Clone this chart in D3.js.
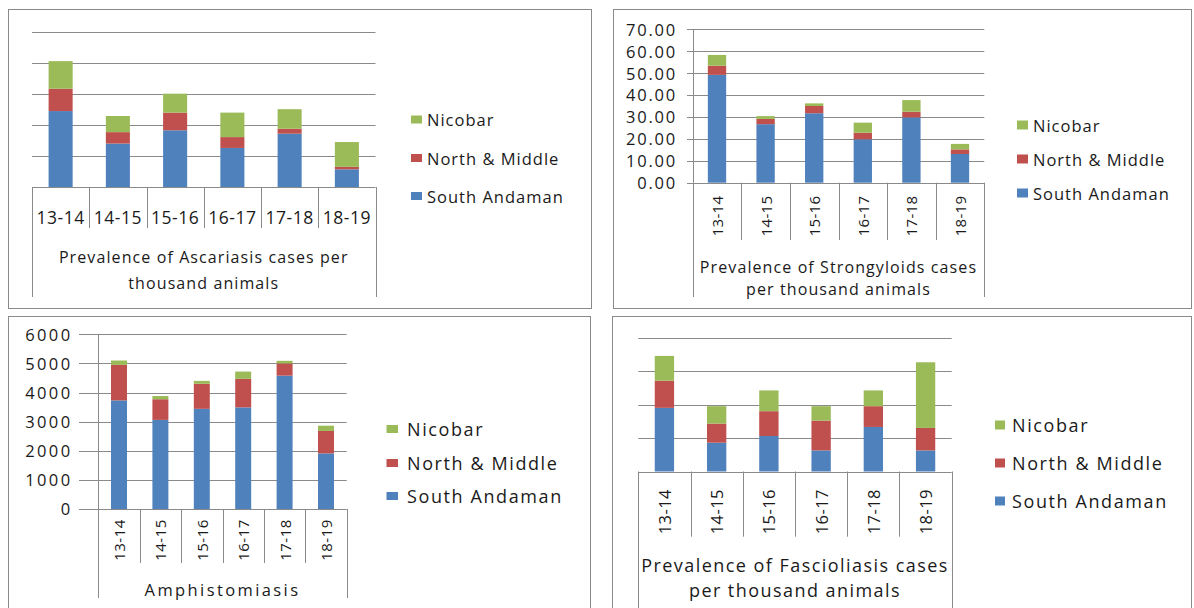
<!DOCTYPE html>
<html>
<head>
<meta charset="utf-8">
<script src="https://cdn.jsdelivr.net/npm/d3@7"></script>
<style>
  html, body { margin: 0; padding: 0; background: #ffffff; }
  svg { display: block; font-family: "Open Sans", "Noto Sans", sans-serif; }
</style>
</head>
<body>
<svg id="chart" width="1194" height="608"></svg>
<script>
// ---- data ----
const years = ["13-14", "14-15", "15-16", "16-17", "17-18", "18-19"];
const seriesNames = ["South Andaman", "North & Middle", "Nicobar"];
const seriesColors = ["#4F81BD", "#C0504D", "#9BBB59"];

// Ascariasis (cases per thousand animals)
const ascSouth   = [24.5, 14.0, 18.3, 12.6, 17.2, 5.7];
const ascNorth   = [7.2, 3.7, 5.7, 3.5, 1.6, 0.8];
const ascNicobar = [8.9, 5.2, 6.1, 7.9, 6.3, 8.0];
const ascTicks   = [0, 10, 20, 30, 40, 50];

// Strongyloids (cases per thousand animals)
const strSouth   = [49.2, 26.7, 31.7, 19.8, 29.8, 13.1];
const strNorth   = [4.2, 2.4, 3.3, 3.0, 2.6, 2.1];
const strNicobar = [4.9, 1.3, 1.2, 4.6, 5.3, 2.5];
const strTicks   = [0, 10, 20, 30, 40, 50, 60, 70];

// Amphistomiasis
const amphSouth   = [3730, 3060, 3440, 3490, 4580, 1910];
const amphNorth   = [1220, 710, 860, 980, 420, 770];
const amphNicobar = [150, 110, 100, 250, 90, 180];
const amphTicks   = [0, 1000, 2000, 3000, 4000, 5000, 6000];

// Fascioliasis (cases per thousand animals)
const fasSouth   = [19.0, 8.6, 10.6, 6.3, 13.3, 6.3];
const fasNorth   = [8.1, 5.7, 7.4, 8.9, 6.2, 6.7];
const fasNicobar = [7.4, 5.2, 6.2, 4.3, 4.7, 19.6];
const fasTicks   = [0, 10, 20, 30, 40];

// ---- layout of the four panels ----
const panels = [
  {
    values: [ascSouth, ascNorth, ascNicobar], ticks: ascTicks,
    frame: { x: 8.5, y: 9.5, w: 583, h: 299 },
    plot: { x0: 32, x1: 375.5, yTop: 32, yBase: 187, gridX0: 32 },
    barRatio: 0.42, yLabels: false, axisLine: false,
    cat: { mode: "h", cy: 217, size: 17.5, ls: 0.5, innerBottom: 228, outerBottom: 297 },
    title: { lines: ["Prevalence of Ascariasis cases per", "thousand animals"], ys: [257, 283], size: 16, ls: 1.1 },
    legend: { sqX: 411, sqW: 11, sqH: 8, textX: 427, ys: [196, 158, 119.5], size: 16.5, ls: 1 }
  },
  {
    values: [strSouth, strNorth, strNicobar], ticks: strTicks,
    frame: { x: 613.5, y: 9.5, w: 578, h: 299 },
    plot: { x0: 692.7, x1: 984.3, yTop: 29.3, yBase: 182.7, gridX0: 687 },
    barRatio: 0.377, yLabels: true, yFormat: d3.format(".2f"), yLabelRight: 677, ySize: 16.5, yLs: 1.8,
    axisLine: true,
    cat: { mode: "v", cy: 216, size: 15, ls: 0.3, innerBottom: 240, outerBottom: 297 },
    title: { lines: ["Prevalence of Strongyloids cases", "per thousand animals"], ys: [267, 289], size: 16, ls: 1.1 },
    legend: { sqX: 1017, sqW: 11, sqH: 9, textX: 1033, ys: [193, 159, 125], size: 16.5, ls: 1 }
  },
  {
    values: [amphSouth, amphNorth, amphNicobar], ticks: amphTicks,
    frame: { x: 8.5, y: 316.5, w: 582, h: 300 },
    plot: { x0: 98.3, x1: 346.7, yTop: 334.3, yBase: 509, gridX0: 79 },
    barRatio: 0.386, yLabels: true, yFormat: d3.format("d"), yLabelRight: 72.5, ySize: 16.5, yLs: 2.4,
    axisLine: true,
    cat: { mode: "v", cy: 540, size: 15, ls: 0.5, innerBottom: 563, outerBottom: 598 },
    title: { lines: ["Amphistomiasis"], ys: [589], size: 16.5, ls: 2.4 },
    legend: { sqX: 386.5, sqW: 11.5, sqH: 8, textX: 407, ys: [496, 463, 429], size: 18, ls: 1.6 }
  },
  {
    values: [fasSouth, fasNorth, fasNicobar], ticks: fasTicks,
    frame: { x: 612.5, y: 316.5, w: 579, h: 300 },
    plot: { x0: 638.3, x1: 951.7, yTop: 337.5, yBase: 471.5, gridX0: 638.3 },
    barRatio: 0.37, yLabels: false, axisLine: false,
    cat: { mode: "v", cy: 511.7, size: 16.5, ls: 0.4, innerBottom: 536.7, outerBottom: 620 },
    title: { lines: ["Prevalence of Fascioliasis cases", "per thousand animals"], ys: [565, 590], size: 18, ls: 1.45 },
    legend: { sqX: 995, sqW: 10, sqH: 9, textX: 1012, ys: [501, 463, 425], size: 18, ls: 1.6 }
  }
];

const svg = d3.select("#chart");
const lineColor = "#8a8a8a";
const textColor = "#1a1a1a";

panels.forEach(p => {
  const g = svg.append("g");

  // outer frame of the panel
  g.append("rect")
    .attr("x", p.frame.x).attr("y", p.frame.y)
    .attr("width", p.frame.w).attr("height", p.frame.h)
    .attr("fill", "#ffffff").attr("stroke", lineColor).attr("stroke-width", 1);

  // table of rows for the stack layout
  const rows = years.map((yr, i) => {
    const r = { year: yr };
    seriesNames.forEach((s, k) => { r[s] = p.values[k][i]; });
    return r;
  });
  const stacked = d3.stack().keys(seriesNames)(rows);

  const yMax = p.ticks[p.ticks.length - 1];
  const y = d3.scaleLinear().domain([0, yMax]).range([p.plot.yBase, p.plot.yTop]);
  const xCat = d3.scaleBand().domain(years).range([p.plot.x0, p.plot.x1]).padding(0);
  const xBar = d3.scaleBand().domain(years).range([p.plot.x0, p.plot.x1])
    .paddingInner(1 - p.barRatio).paddingOuter((1 - p.barRatio) / 2);

  // horizontal gridlines
  g.append("g").selectAll("line").data(p.ticks).join("line")
    .attr("x1", p.plot.gridX0).attr("x2", p.plot.x1)
    .attr("y1", d => Math.round(y(d)) + 0.5).attr("y2", d => Math.round(y(d)) + 0.5)
    .attr("stroke", lineColor).attr("stroke-width", 1);

  // stacked bars
  g.append("g").selectAll("g").data(stacked).join("g")
    .attr("fill", (d, i) => seriesColors[i])
    .selectAll("rect").data(d => d).join("rect")
    .attr("x", d => xBar(d.data.year))
    .attr("width", xBar.bandwidth())
    .attr("y", d => y(d[1]))
    .attr("height", d => y(d[0]) - y(d[1]));

  // value axis labels
  if (p.yLabels) {
    const ax = g.append("g")
      .attr("transform", `translate(${p.plot.x0},0)`)
      .call(d3.axisLeft(y).tickValues(p.ticks).tickFormat(p.yFormat)
        .tickSize(0).tickPadding(p.plot.x0 - p.yLabelRight));
    ax.select(".domain").remove();
    ax.selectAll("text")
      .attr("font-family", "\"Open Sans\", sans-serif")
      .attr("font-size", p.ySize)
      .attr("letter-spacing", p.yLs)
      .attr("fill", textColor)
      .attr("dy", "0.36em");
  }

  // vertical axis line
  if (p.axisLine) {
    g.append("line")
      .attr("x1", Math.round(p.plot.x0) + 0.5).attr("x2", Math.round(p.plot.x0) + 0.5)
      .attr("y1", p.plot.yTop).attr("y2", p.plot.yBase)
      .attr("stroke", lineColor);
  }

  // category dividers (inner short, outer reaching past the group title)
  const bounds = years.map(yr => xCat(yr)).concat([p.plot.x1]);
  g.append("g").selectAll("line").data(bounds).join("line")
    .attr("x1", d => Math.round(d) + 0.5).attr("x2", d => Math.round(d) + 0.5)
    .attr("y1", p.plot.yBase)
    .attr("y2", (d, i) => (i === 0 || i === bounds.length - 1) ? p.cat.outerBottom : p.cat.innerBottom)
    .attr("stroke", lineColor);

  // category labels
  const labels = g.append("g").selectAll("text").data(years).join("text")
    .text(d => d)
    .attr("font-size", p.cat.size)
    .attr("letter-spacing", p.cat.ls)
    .attr("fill", textColor)
    .attr("text-anchor", "middle")
    .attr("dominant-baseline", "central");
  if (p.cat.mode === "h") {
    labels.attr("x", d => xCat(d) + xCat.bandwidth() / 2).attr("y", p.cat.cy);
  } else {
    labels.attr("transform", d => `translate(${xCat(d) + xCat.bandwidth() / 2},${p.cat.cy}) rotate(-90)`);
  }

  // group title under the categories
  const cx = (p.plot.x0 + p.plot.x1) / 2;
  g.append("g").selectAll("text").data(p.title.lines).join("text")
    .text(d => d)
    .attr("x", cx)
    .attr("y", (d, i) => p.title.ys[i])
    .attr("font-size", p.title.size)
    .attr("letter-spacing", p.title.ls)
    .attr("fill", textColor)
    .attr("text-anchor", "middle")
    .attr("dominant-baseline", "central");

  // legend (Nicobar on top)
  const lg = g.append("g").selectAll("g").data(seriesNames).join("g")
    .attr("transform", (d, i) => `translate(0,${p.legend.ys[i]})`);
  lg.append("rect")
    .attr("x", p.legend.sqX).attr("y", -p.legend.sqH / 2)
    .attr("width", p.legend.sqW).attr("height", p.legend.sqH)
    .attr("fill", (d, i) => seriesColors[i]);
  lg.append("text")
    .text(d => d)
    .attr("x", p.legend.textX)
    .attr("font-size", p.legend.size)
    .attr("letter-spacing", p.legend.ls)
    .attr("fill", textColor)
    .attr("dominant-baseline", "central");
});
</script>
</body>
</html>
